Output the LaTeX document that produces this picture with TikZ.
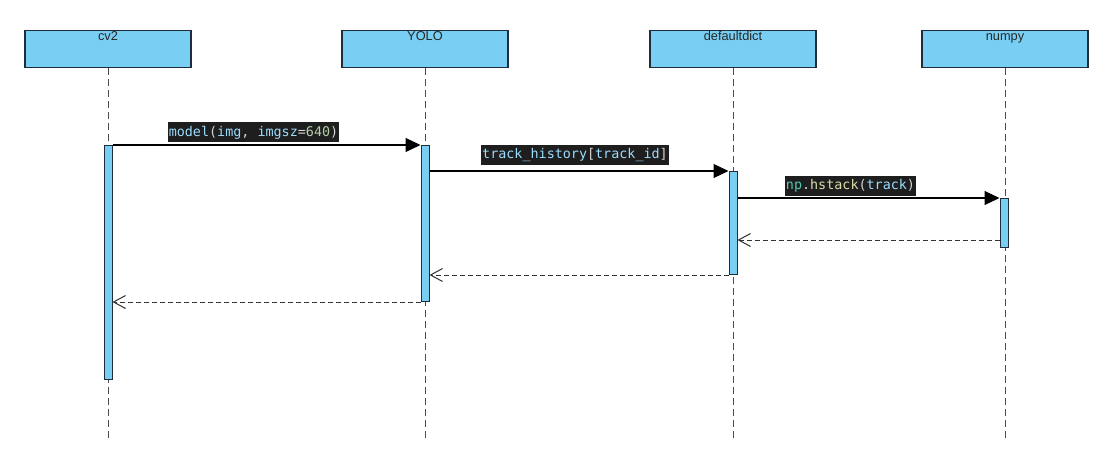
\documentclass[tikz,border=0pt]{standalone}
\usepackage{fontspec}
\setmainfont{Liberation Sans}
\newfontfamily\codefont{DejaVu Sans Mono}
\usetikzlibrary{arrows.meta}
\definecolor{actfill}{HTML}{79CFF3}
\definecolor{actborder}{HTML}{1F2D3A}
\definecolor{codebg}{HTML}{1E1E1E}
\definecolor{cvar}{HTML}{9CDCFE}
\definecolor{cnum}{HTML}{B5CEA8}
\definecolor{ctype}{HTML}{4EC9B0}
\definecolor{cfunc}{HTML}{DCDCAA}
\definecolor{cpunct}{HTML}{D4D4D4}
\newcommand{\cv}[1]{\textcolor{cvar}{#1}}
\newcommand{\cp}[1]{\textcolor{cpunct}{#1}}
\tikzset{
  header/.style={draw=actborder, line width=1.4pt, fill=actfill, minimum width=166pt,
    inner xsep=0pt, inner ysep=1pt, text height=9pt, text depth=26pt,
    font=\fontsize{12.8}{14}\selectfont, text=black!85},
  actbar/.style={draw=actborder, line width=1pt, fill=actfill, minimum width=8pt, inner sep=0pt},
  lifeline/.style={draw=black!70, line width=1pt, dash pattern=on 7pt off 4pt},
  msg/.style={draw=black, line width=1.1pt, -{Triangle[length=15pt,width=14pt]}},
  ret/.style={draw=black!80, line width=1pt, dash pattern=on 5pt off 3pt, -{Straight Barb[length=12pt,width=13pt,line width=1pt]}},
  codelbl/.style={fill=codebg, inner xsep=1pt, inner ysep=0pt, minimum height=20pt,
    text height=11pt, text depth=3.5pt, font=\codefont\fontsize{13.4}{15}\selectfont}
}
\begin{document}
\begin{tikzpicture}[x=1pt,y=-1pt]
\useasboundingbox[fill=white] (0,0) rectangle (1116,468);
% headers
\node[header, anchor=north] (hcv) at (108,30) {cv2};
\node[header, anchor=north] (hyolo) at (425,30) {YOLO};
\node[header, anchor=north] (hdd) at (733,30) {defaultdict};
\node[header, anchor=north] (hnp) at (1005,30) {numpy};
% lifeline ends
\coordinate (ecv) at (108,438);
\coordinate (eyolo) at (425,438);
\coordinate (edd) at (733,438);
\coordinate (enp) at (1005,438);
\draw[lifeline] (hcv.south) -- (ecv);
\draw[lifeline] (hyolo.south) -- (eyolo);
\draw[lifeline] (hdd.south) -- (edd);
\draw[lifeline] (hnp.south) -- (enp);
% activation bars
\node[actbar, minimum height=234pt, anchor=north] (bcv) at (108,145) {};
\node[actbar, minimum height=156pt, anchor=north] (byolo) at (425,145) {};
\node[actbar, minimum height=103pt, anchor=north] (bdd) at (733,171) {};
\node[actbar, minimum height=49pt, anchor=north] (bnp) at (1004,198) {};
% messages
\draw[msg] (bcv.north east) -- (byolo.north west);
\draw[msg] (byolo.east |- bdd.north) -- (bdd.north west);
\draw[msg] (bdd.east |- bnp.north) -- (bnp.north west);
% returns
\coordinate (r1) at ([yshift=8pt]bnp.south west);
\draw[ret] (r1) -- (bdd.east |- r1);
\draw[ret] (bdd.south west) -- (byolo.east |- bdd.south);
\draw[ret] (byolo.south west) -- (bcv.east |- byolo.south);
% labels
\node[codelbl] (l1) at (253.5,132.5) {\cv{model}\cp{(}\cv{img}\cp{, }\cv{imgsz}\cp{=}\textcolor{cnum}{640}\cp{)}};
\node[codelbl] (l2) at (575,155) {\cv{track\_history}\cp{[}\cv{track\_id}\cp{]}};
\node[codelbl] (l3) at (850.5,185.5) {\textcolor{ctype}{np}\cp{.}\textcolor{cfunc}{hstack}\cp{(}\cv{track}\cp{)}};
\end{tikzpicture}
\end{document}
